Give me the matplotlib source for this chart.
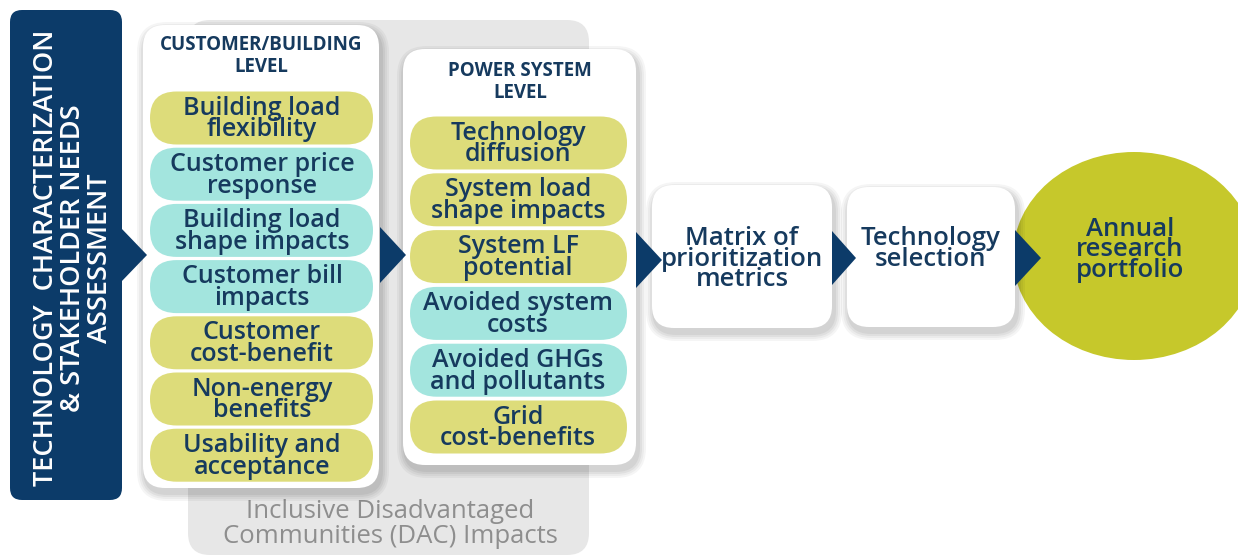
import matplotlib.pyplot as plt
from matplotlib.patches import FancyBboxPatch, Polygon, Ellipse

# Diagram content
left_label = 'TECHNOLOGY  CHARACTERIZATION\n& STAKEHOLDER NEEDS\nASSESSMENT'
customer_title = 'CUSTOMER/BUILDING\nLEVEL'
customer_items = ['Building load\nflexibility', 'Customer price\nresponse', 'Building load\nshape impacts',
                  'Customer bill\nimpacts', 'Customer\ncost-benefit', 'Non-energy\nbenefits', 'Usability and\nacceptance']
customer_kind = ['y', 'c', 'c', 'c', 'y', 'y', 'y']
system_title = 'POWER SYSTEM\nLEVEL'
system_items = ['Technology\ndiffusion', 'System load\nshape impacts', 'System LF\npotential',
                'Avoided system\ncosts', 'Avoided GHGs\nand pollutants', 'Grid\ncost-benefits']
system_kind = ['y', 'y', 'y', 'c', 'c', 'y']
step_labels = ['Matrix of\nprioritization\nmetrics', 'Technology\nselection']
final_label = 'Annual\nresearch\nportfolio'
dac_label = 'Inclusive Disadvantaged\nCommunities (DAC) Impacts'

# Colours
navy = '#0c3b69'
text_navy = '#163a5e'
pill_col = {'y': '#dddc7a', 'c': '#a3e5de'}
circle_col = '#c6c82b'
panel_gray = '#e7e7e7'
font = 'Open Sans'

fig = plt.figure(figsize=(12.38, 5.57), dpi=100)
ax = fig.add_axes([0, 0, 1, 1])
ax.set_xlim(0, 1238)
ax.set_ylim(557, 0)
ax.set_aspect('equal')
ax.axis('off')


def rbox(x, y, w, h, r, color, z, shadow=False):
	if shadow:
		for i, a in enumerate([0.04, 0.04, 0.05, 0.05]):
			s = 8 - 2 * i
			ax.add_patch(FancyBboxPatch((x - s + 2, y - s + 5), w + 2 * s, h + 2 * s,
			                            boxstyle='round,pad=0,rounding_size=%g' % (r + s),
			                            fc='#000000', ec='none', alpha=a, zorder=z - 0.5))
	ax.add_patch(FancyBboxPatch((x, y), w, h, boxstyle='round,pad=0,rounding_size=%g' % r,
	                            fc=color, ec='none', zorder=z))


def arrow(x, yc, w=24, h=56, z=6):
	ax.add_patch(Polygon([[x, yc - h / 2], [x + w, yc], [x, yc + h / 2]], closed=True,
	                     fc=navy, ec='none', zorder=z))


# Left navy bar
rbox(10, 10, 112, 490, 12, navy, 2)
arrow(121, 255, 26, 54)
ax.text(73, 258, left_label, rotation=90, ha='center', va='center', color='white',
        fontsize=19.5, family=font, weight=600, linespacing=0.95, zorder=3)

# Gray DAC panel
rbox(188, 20, 401, 535, 22, panel_gray, 1)
ax.text(390, 524, dac_label, ha='center', va='center', color='#8e8e8e',
        fontsize=18.5, family=font, linespacing=0.97, zorder=2)

# Customer/building card
rbox(143, 25, 236, 463, 22, 'white', 4, shadow=True)
ax.text(261, 56, customer_title, ha='center', va='center', color=text_navy,
        fontsize=13.5, family=font, weight='bold', linespacing=1.1, zorder=5)
for i, (lab, k) in enumerate(zip(customer_items, customer_kind)):
	yc = 118 + i * 56.2
	rbox(150, yc - 26.5, 223, 53, 26.5, pill_col[k], 5)
	ax.text(262, yc + 1, lab, ha='center', va='center', color=text_navy,
	        fontsize=18, family=font, weight=600, linespacing=0.84, zorder=6)
arrow(380, 255, 26, 56)

# Power system card
rbox(403, 49, 233, 416, 22, 'white', 4, shadow=True)
ax.text(520, 82, system_title, ha='center', va='center', color=text_navy,
        fontsize=13.5, family=font, weight='bold', linespacing=1.1, zorder=5)
for i, (lab, k) in enumerate(zip(system_items, system_kind)):
	yc = 143 + i * 56.8
	rbox(410, yc - 26.5, 217, 53, 26.5, pill_col[k], 5)
	ax.text(518, yc + 1, lab, ha='center', va='center', color=text_navy,
	        fontsize=18, family=font, weight=600, linespacing=0.84, zorder=6)
arrow(636, 260, 26, 56)

# Step boxes
rbox(652, 185, 180, 143, 22, 'white', 4, shadow=True)
ax.text(742, 259, step_labels[0], ha='center', va='center', color=text_navy,
        fontsize=18.5, family=font, weight=600, linespacing=0.76, zorder=6)
arrow(832, 258, 24, 54)
rbox(847, 187, 168, 140, 22, 'white', 4, shadow=True)
ax.text(931, 249, step_labels[1], ha='center', va='center', color=text_navy,
        fontsize=18.5, family=font, weight=600, linespacing=0.76, zorder=6)

# Final circle (slightly wider than tall, as in the source)
ax.add_patch(Ellipse((1134, 256), 242, 208, fc=circle_col, ec='none', zorder=3))
arrow(1015, 258, 26, 56)
ax.text(1130, 250, final_label, ha='center', va='center', color=text_navy,
        fontsize=18.5, family=font, weight=600, linespacing=0.76, zorder=6)

fig.savefig('out.png', dpi=100, facecolor='white')
